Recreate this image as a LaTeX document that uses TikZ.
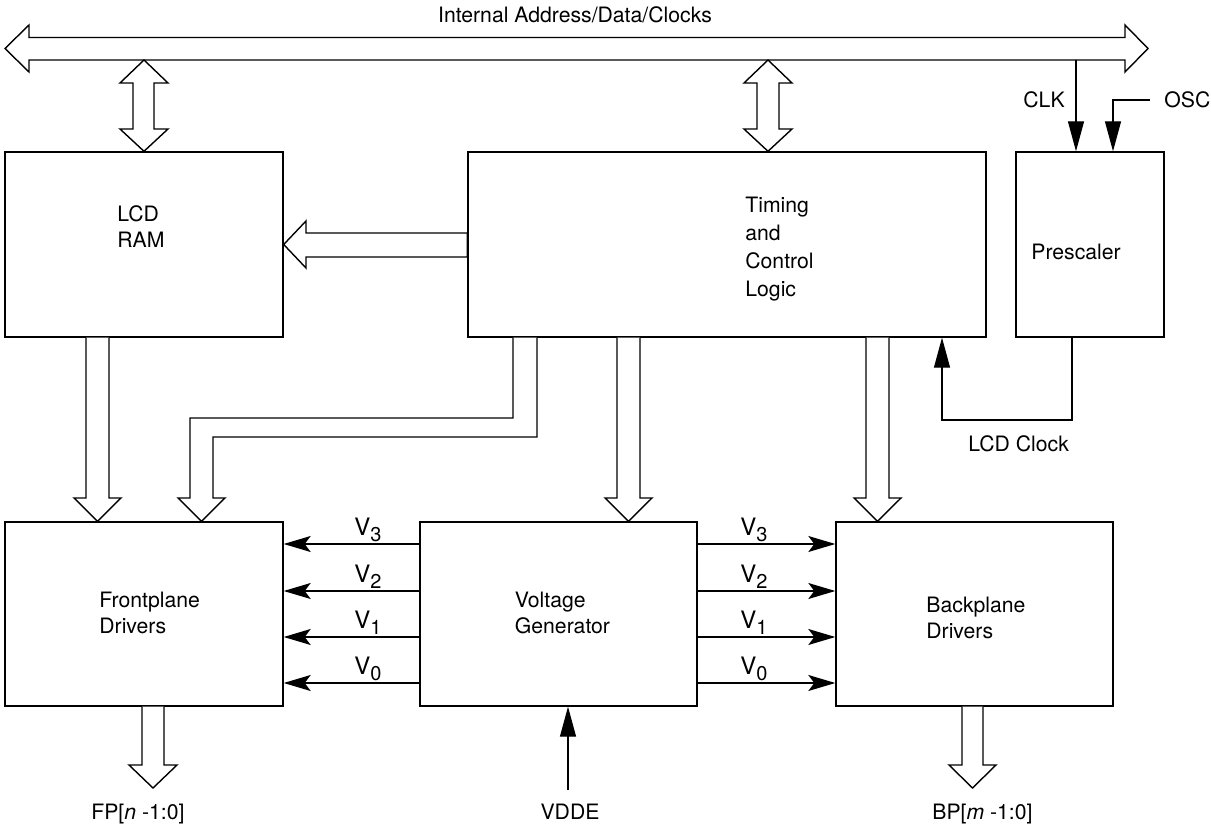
\documentclass[tikz,border=0pt]{standalone}
\usepackage{fontspec}
\setmainfont{TeX Gyre Heros}
\usepackage{tikz}
\usetikzlibrary{arrows.meta}
\newcommand{\vlev}[1]{V\raisebox{-3.2pt}{\fontsize{10}{10}\selectfont #1}}

\begin{document}
\begin{tikzpicture}[x=0.5pt,y=-0.5pt,
  blk/.style={rectangle,draw,inner sep=0pt,line width=0.7pt},
  txt/.style={font=\fontsize{10.6}{13}\selectfont,align=left,inner sep=0pt,anchor=north west},
  lbl/.style={font=\fontsize{10.6}{13}\selectfont,inner sep=0pt,anchor=base west},
  vl/.style={font=\fontsize{12}{14}\selectfont,inner sep=0pt,anchor=base west},
  hol/.style={draw,fill=white,line width=0.7pt,line join=miter},
  va/.style={-{Stealth[length=13.5pt,width=8pt,inset=3pt]},line width=0.7pt},
  ta/.style={-{Triangle[length=15pt,width=8pt]},line width=0.6pt}]

\useasboundingbox (0,0) rectangle (1211,824);

% internal bus
\draw[hol] (5,48.5) -- (29,25) -- (29,37.5) -- (1125,37.5) -- (1125,25) -- (1148,48.5)
  -- (1125,72) -- (1125,60) -- (29,60) -- (29,72) -- cycle;
\node[lbl,anchor=base] (bustxt) at (575,23) {Internal Address/Data/Clocks};

% upper row
\node[blk,minimum width=139pt,minimum height=92.5pt] (ram) at (144,244.5) {};
\node[txt] (ramtxt) at (117,205) {LCD\\RAM};
\node[blk,minimum width=259pt,minimum height=92.5pt] (tcl) at (727,244.5) {};
\node[txt,font=\fontsize{10.6}{14}\selectfont] (tcltxt) at (745,197) {Timing\\and\\Control\\Logic};
\node[blk,minimum width=74pt,minimum height=92.5pt] (pre) at (1090,244.5) {};
\node[txt] (pretxt) at (1031,244) {Prescaler};

% lower row
\node[blk,minimum width=139pt,minimum height=92pt] (fp) at (144,614) {};
\node[txt] (fptxt) at (99,592) {Frontplane\\Drivers};
\node[blk,minimum width=138.5pt,minimum height=92pt] (vg) at (558.5,614) {};
\node[txt] (vgtxt) at (514.5,592) {Voltage\\Generator};
\node[blk,minimum width=138.5pt,minimum height=92pt] (bp) at (974.5,614) {};
\node[txt] (bptxt) at (926,597) {Backplane\\Drivers};

% bus <-> blocks
\draw[hol] (144,60) -- (168,83) -- (154,83) -- (154,129) -- (168,129) -- (ram.north)
  -- (120,129) -- (133,129) -- (133,83) -- (120,83) -- cycle;
\draw[hol] (768,60) -- (792,83) -- (779,83) -- (779,129) -- (792,129) -- (tcl.north -| 768,0)
  -- (744,129) -- (757,129) -- (757,83) -- (744,83) -- cycle;

% timing -> LCD RAM
\draw[hol] (ram.east) -- (306,221) -- (306,233) -- (tcl.west |- 0,233) -- (tcl.west |- 0,257)
  -- (306,257) -- (306,268) -- cycle;

% down into the drivers
\draw[hol] (ram.south -| 86,0) -- (86,498) -- (74,498) -- (fp.north -| 97.5,0) -- (121,498)
  -- (109,498) -- (ram.south -| 109,0);
\draw[hol] (tcl.south -| 513,0) -- (513,418) -- (190,418) -- (190,498) -- (178,498)
  -- (fp.north -| 201.5,0) -- (225,498) -- (213,498) -- (213,437) -- (537,437) -- (tcl.south -| 537,0);
\draw[hol] (tcl.south -| 617,0) -- (617,498) -- (605,498) -- (vg.north -| 628.5,0) -- (652,498)
  -- (640,498) -- (tcl.south -| 640,0);
\draw[hol] (tcl.south -| 866,0) -- (866,498) -- (854,498) -- (bp.north -| 877.5,0) -- (901,498)
  -- (889,498) -- (tcl.south -| 889,0);

% driver outputs
\draw[hol] (fp.south -| 142,0) -- (142,765) -- (129,765) -- (153,788) -- (177,765) -- (164,765)
  -- (fp.south -| 164,0);
\node[lbl] (fpout) at (91,819) {FP[\textit{n} -1:0]};
\draw[hol] (bp.south -| 962,0) -- (962,765) -- (949,765) -- (972.5,788) -- (996,765) -- (983,765)
  -- (bp.south -| 983,0);
\node[lbl] (bpout) at (932,819) {BP[\textit{m} -1:0]};

% voltage levels
\draw[va] (vg.west |- 0,544) -- (fp.east |- 0,544); \node[vl] (vf3) at (354,535) {\vlev{3}};
\draw[va] (vg.west |- 0,591) -- (fp.east |- 0,591); \node[vl] (vf2) at (354,582) {\vlev{2}};
\draw[va] (vg.west |- 0,637) -- (fp.east |- 0,637); \node[vl] (vf1) at (354,628) {\vlev{1}};
\draw[va] (vg.west |- 0,683) -- (fp.east |- 0,683); \node[vl] (vf0) at (354,674) {\vlev{0}};
\draw[va] (vg.east |- 0,544) -- (bp.west |- 0,544); \node[vl] (vb3) at (740,535) {\vlev{3}};
\draw[va] (vg.east |- 0,591) -- (bp.west |- 0,591); \node[vl] (vb2) at (740,582) {\vlev{2}};
\draw[va] (vg.east |- 0,637) -- (bp.west |- 0,637); \node[vl] (vb1) at (740,628) {\vlev{1}};
\draw[va] (vg.east |- 0,683) -- (bp.west |- 0,683); \node[vl] (vb0) at (740,674) {\vlev{0}};

% supply
\coordinate (vin) at (568,790);
\draw[ta] (vin) -- (vg.south -| vin);
\node[lbl,anchor=base] (vdde) at (570,819) {VDDE};

% clocks
\coordinate (clk) at (1076,60);
\coordinate (osc) at (1150,100);
\draw[ta] (clk) -- (pre.north -| clk);
\node[lbl] (clktxt) at (1023,108) {CLK};
\draw[ta] (osc) -| (pre.north -| 1113,0);
\node[lbl] (osctxt) at (1164,108) {OSC};
\draw[ta] (pre.south -| 1072,0) |- (942,420) -- (tcl.south -| 942,0);
\node[lbl] (lcdclk) at (968,451) {LCD Clock};
\end{tikzpicture}
\end{document}
